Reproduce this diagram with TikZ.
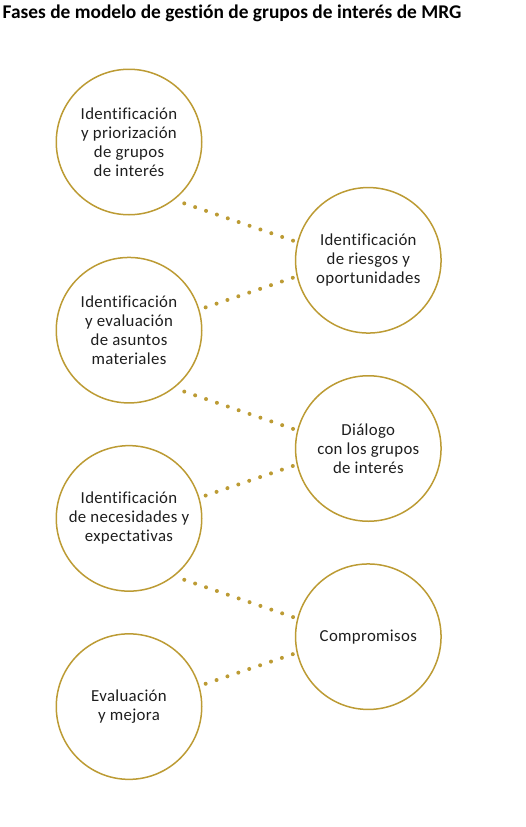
\documentclass[tikz,border=0pt]{standalone}
\usepackage{fontspec}
\setmainfont{Carlito}[Ligatures=NoCommon]
\usetikzlibrary{calc}
\definecolor{gold}{RGB}{188,155,52}
\definecolor{ink}{RGB}{30,30,30}
\begin{document}
\begin{tikzpicture}[x=1pt,y=-1pt,
  phase/.style={circle,draw=gold,line width=1.5pt,minimum size=145.5pt,inner sep=0pt,
    align=center,font=\fontsize{16.8}{19}\selectfont\addfontfeatures{LetterSpace=2},text=ink},
  dots/.style={draw=gold,line width=4pt,line cap=round,dash pattern=on 0pt off 11.5pt}]
\useasboundingbox (0,0) rectangle (526,827);
\node[anchor=base west,inner sep=0pt,font=\fontsize{19.4}{22}\selectfont\bfseries,text=black]
  (title) at (2.5,18.5) {Fases de modelo de gestión de grupos de interés de MRG};

\node[phase] (L1) at (129,142) {Identificación\\y priorización\\de grupos\\de interés};
\node[phase] (L2) at (129,330.2) {Identificación\\y evaluación\\de asuntos\\materiales};
\node[phase] (L3) at (129,518.4) {Identificación\\de necesidades y\\expectativas};
\node[phase] (L4) at (129,706.6) {Evaluación\\y mejora};

\node[phase] (R1) at (368.3,260.3) {Identificación\\de riesgos y\\oportunidades};
\node[phase] (R2) at (368.3,448.5) {Diálogo\\con los grupos\\de interés};
\node[phase] (R3) at (368.3,636.7) {Compromisos};

\foreach \a/\b in {L1/R1,L2/R2,L3/R3}{
  \draw[dots] ($(\a)+(-48:82.6pt)$) -- ($(\b)+(165.4:77.5pt)$);
}
\foreach \a/\b in {L2/R1,L3/R2,L4/R3}{
  \draw[dots] ($(\a)+(16.6:80pt)$) -- ($(\b)+(-167:77pt)$);
}
\end{tikzpicture}
\end{document}
